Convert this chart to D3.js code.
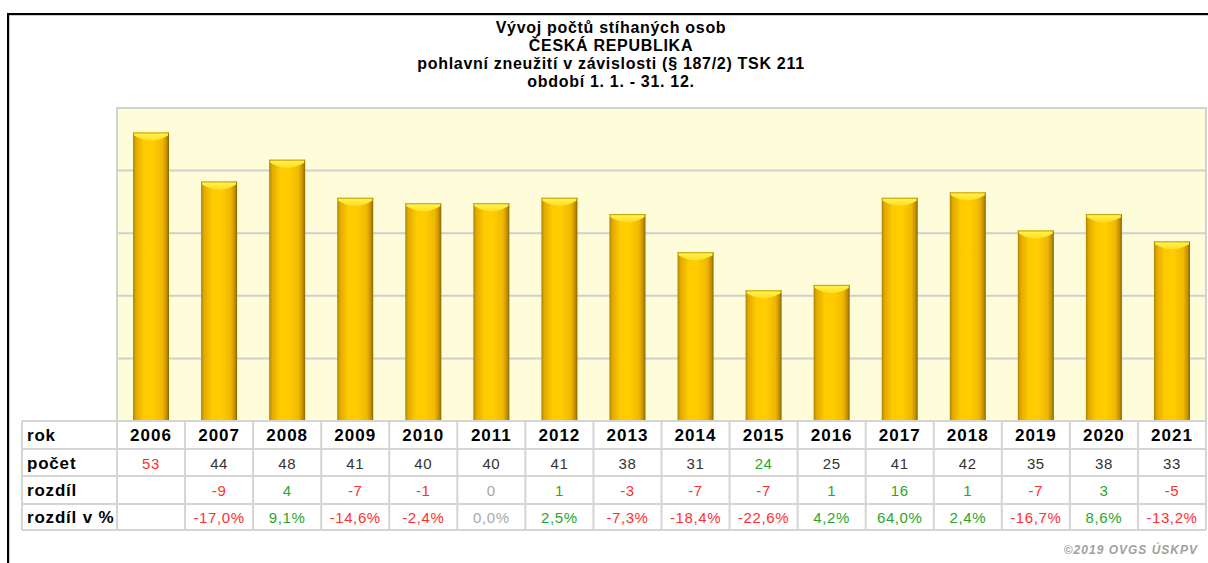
<!DOCTYPE html>
<html>
<head>
<meta charset="utf-8">
<script src="https://cdn.jsdelivr.net/npm/d3@7"></script>
<style>
  body { margin: 0; background: #fff; }
  svg { display: block; font-family: "Liberation Sans", Arial, sans-serif; }
</style>
</head>
<body>
<script>
// data
const years = ["2006","2007","2008","2009","2010","2011","2012","2013","2014","2015","2016","2017","2018","2019","2020","2021"];
const pocet = [53, 44, 48, 41, 40, 40, 41, 38, 31, 24, 25, 41, 42, 35, 38, 33];
const rozdil = [null, -9, 4, -7, -1, 0, 1, -3, -7, -7, 1, 16, 1, -7, 3, -5];
const rozdilPct = [null, -17.0, 9.1, -14.6, -2.4, 0.0, 2.5, -7.3, -18.4, -22.6, 4.2, 64.0, 2.4, -16.7, 8.6, -13.2];
const titleLines = ["Vývoj počtů stíhaných osob", "ČESKÁ REPUBLIKA", "pohlavní zneužití v závislosti (§ 187/2) TSK 211", "období 1. 1. - 31. 12."];
const rowLabels = ["rok", "počet", "rozdíl", "rozdíl v %"];

const W = 1208, H = 563;
const plot = { left: 117, right: 1206, top: 108, bottom: 421 };
const tableLeft = 22;
const rowEdges = [421, 449, 476, 504, 530];

const svg = d3.select("body").append("svg").attr("width", W).attr("height", H);

// outer frame
svg.append("path").attr("d", `M9,${H} V15 H${W}`).attr("fill", "none").attr("stroke", "#999").attr("stroke-width", 1);
svg.append("path").attr("d", `M8,${H} V14 H${W}`).attr("fill", "none").attr("stroke", "#000").attr("stroke-width", 2);

// title
svg.append("g").selectAll("text")
  .data(titleLines)
  .join("text")
  .attr("x", 611)
  .attr("y", (d, i) => 33 + i * 18)
  .attr("text-anchor", "middle")
  .style("font-size", "16px")
  .style("font-weight", "bold")
  .style("letter-spacing", "0.7px")
  .text(d => d);

const x = d3.scaleBand().domain(years).range([plot.left, plot.right]);
const y = d3.scaleLinear().domain([0, 57.5]).range([plot.bottom, plot.top]);

const defs = svg.append("defs");
const grad = defs.append("linearGradient").attr("id", "barGrad").attr("x1", 0).attr("x2", 1).attr("y1", 0).attr("y2", 0);
[[0, "#b08400"], [0.08, "#e0aa00"], [0.3, "#ffca00"], [0.55, "#ffcd00"], [0.82, "#f0b800"], [0.93, "#c49200"], [1, "#8a6500"]]
  .forEach(([o, c]) => grad.append("stop").attr("offset", o).attr("stop-color", c));
const capGrad = defs.append("linearGradient").attr("id", "capGrad").attr("x1", 0).attr("x2", 0).attr("y1", 0).attr("y2", 1);
[[0, "#fff35a"], [1, "#ffe020"]].forEach(([o, c]) => capGrad.append("stop").attr("offset", o).attr("stop-color", c));

// plot background
svg.append("rect")
  .attr("x", plot.left).attr("y", plot.top)
  .attr("width", plot.right - plot.left).attr("height", plot.bottom - plot.top)
  .attr("fill", "#fffcda").attr("stroke", "#d2d2d2").attr("stroke-width", 2);

// gridlines
const gridVals = d3.range(1, 5).map(i => i * 57.5 / 5);
svg.append("g").selectAll("line")
  .data(gridVals)
  .join("line")
  .attr("x1", plot.left).attr("x2", plot.right)
  .attr("y1", d => y(d)).attr("y2", d => y(d))
  .attr("stroke", "#cfcfcf").attr("stroke-width", 2);

// bars
const barW = 36;
const bars = svg.append("g").selectAll("g")
  .data(years.map((yr, i) => ({ yr, v: pocet[i] })))
  .join("g")
  .attr("transform", d => `translate(${x(d.yr) + x.bandwidth() / 2 - barW / 2},0)`);

bars.append("rect")
  .attr("x", 0).attr("width", barW)
  .attr("y", d => y(d.v)).attr("height", d => y(0) - y(d.v))
  .attr("fill", "url(#barGrad)");

bars.append("path")
  .attr("d", d => {
    const t = y(d.v);
    return `M1,${t} H${barW - 1} V${t + 3} Q${barW / 2},${t + 13} 1,${t + 3} Z`;
  })
  .attr("fill", "url(#capGrad)");

bars.append("line")
  .attr("x1", 0).attr("x2", barW)
  .attr("y1", d => y(d.v) + 0.5).attr("y2", d => y(d.v) + 0.5)
  .attr("stroke", "#c9a000").attr("stroke-width", 1);

// table
const table = svg.append("g");
table.append("rect")
  .attr("x", tableLeft).attr("y", rowEdges[0])
  .attr("width", plot.right - tableLeft).attr("height", rowEdges[4] - rowEdges[0])
  .attr("fill", "#fff");

const colEdges = [tableLeft].concat(years.map(d => x(d))).concat([plot.right]);
table.selectAll("line.v")
  .data(colEdges)
  .join("line")
  .attr("class", "v")
  .attr("x1", d => d).attr("x2", d => d)
  .attr("y1", rowEdges[0]).attr("y2", rowEdges[4])
  .attr("stroke", "#d4d4d4").attr("stroke-width", 2);
table.selectAll("line.h")
  .data(rowEdges)
  .join("line")
  .attr("class", "h")
  .attr("x1", tableLeft).attr("x2", plot.right)
  .attr("y1", d => d).attr("y2", d => d)
  .attr("stroke", "#d4d4d4").attr("stroke-width", 2);

const rowMid = i => (rowEdges[i] + rowEdges[i + 1]) / 2 + 6;

table.selectAll("text.rl")
  .data(rowLabels)
  .join("text")
  .attr("class", "rl")
  .attr("x", tableLeft + 5)
  .attr("y", (d, i) => rowMid(i))
  .style("font-size", "17px").style("font-weight", "bold")
  .style("letter-spacing", "0.8px")
  .text(d => d);

const cx = d => x(d) + x.bandwidth() / 2;
const sign = v => v > 0 ? "#2aa52a" : v < 0 ? "#ff3030" : "#a8a8a8";
const maxP = d3.max(pocet), minP = d3.min(pocet);

table.selectAll("text.yr")
  .data(years)
  .join("text")
  .attr("class", "yr")
  .attr("x", cx).attr("y", rowMid(0))
  .attr("text-anchor", "middle")
  .style("font-size", "17px").style("font-weight", "bold")
  .style("letter-spacing", "1px")
  .text(d => d);

table.selectAll("text.pc")
  .data(years.map((yr, i) => ({ yr, v: pocet[i] })))
  .join("text")
  .attr("class", "pc")
  .attr("x", d => cx(d.yr)).attr("y", rowMid(1))
  .attr("text-anchor", "middle")
  .style("font-size", "15px")
  .style("letter-spacing", "0.6px")
  .attr("fill", d => d.v === maxP ? "#ff3030" : d.v === minP ? "#2aa52a" : "#333")
  .text(d => d.v);

table.selectAll("text.rz")
  .data(years.map((yr, i) => ({ yr, v: rozdil[i] })).filter(d => d.v !== null))
  .join("text")
  .attr("class", "rz")
  .attr("x", d => cx(d.yr)).attr("y", rowMid(2))
  .attr("text-anchor", "middle")
  .style("font-size", "15px")
  .style("letter-spacing", "0.6px")
  .attr("fill", d => sign(d.v))
  .text(d => d.v);

table.selectAll("text.rp")
  .data(years.map((yr, i) => ({ yr, v: rozdilPct[i] })).filter(d => d.v !== null))
  .join("text")
  .attr("class", "rp")
  .attr("x", d => cx(d.yr)).attr("y", rowMid(3))
  .attr("text-anchor", "middle")
  .style("font-size", "15px")
  .style("letter-spacing", "0.6px")
  .attr("fill", d => sign(d.v))
  .text(d => d.v.toFixed(1).replace(".", ",") + "%");

// footer
svg.append("text")
  .attr("x", 1198).attr("y", 554)
  .attr("text-anchor", "end")
  .style("font-size", "12px").style("font-weight", "bold").style("font-style", "italic")
  .style("letter-spacing", "1px")
  .attr("fill", "#a0a0a0")
  .text("©2019 OVGS ÚSKPV");
</script>
</body>
</html>
